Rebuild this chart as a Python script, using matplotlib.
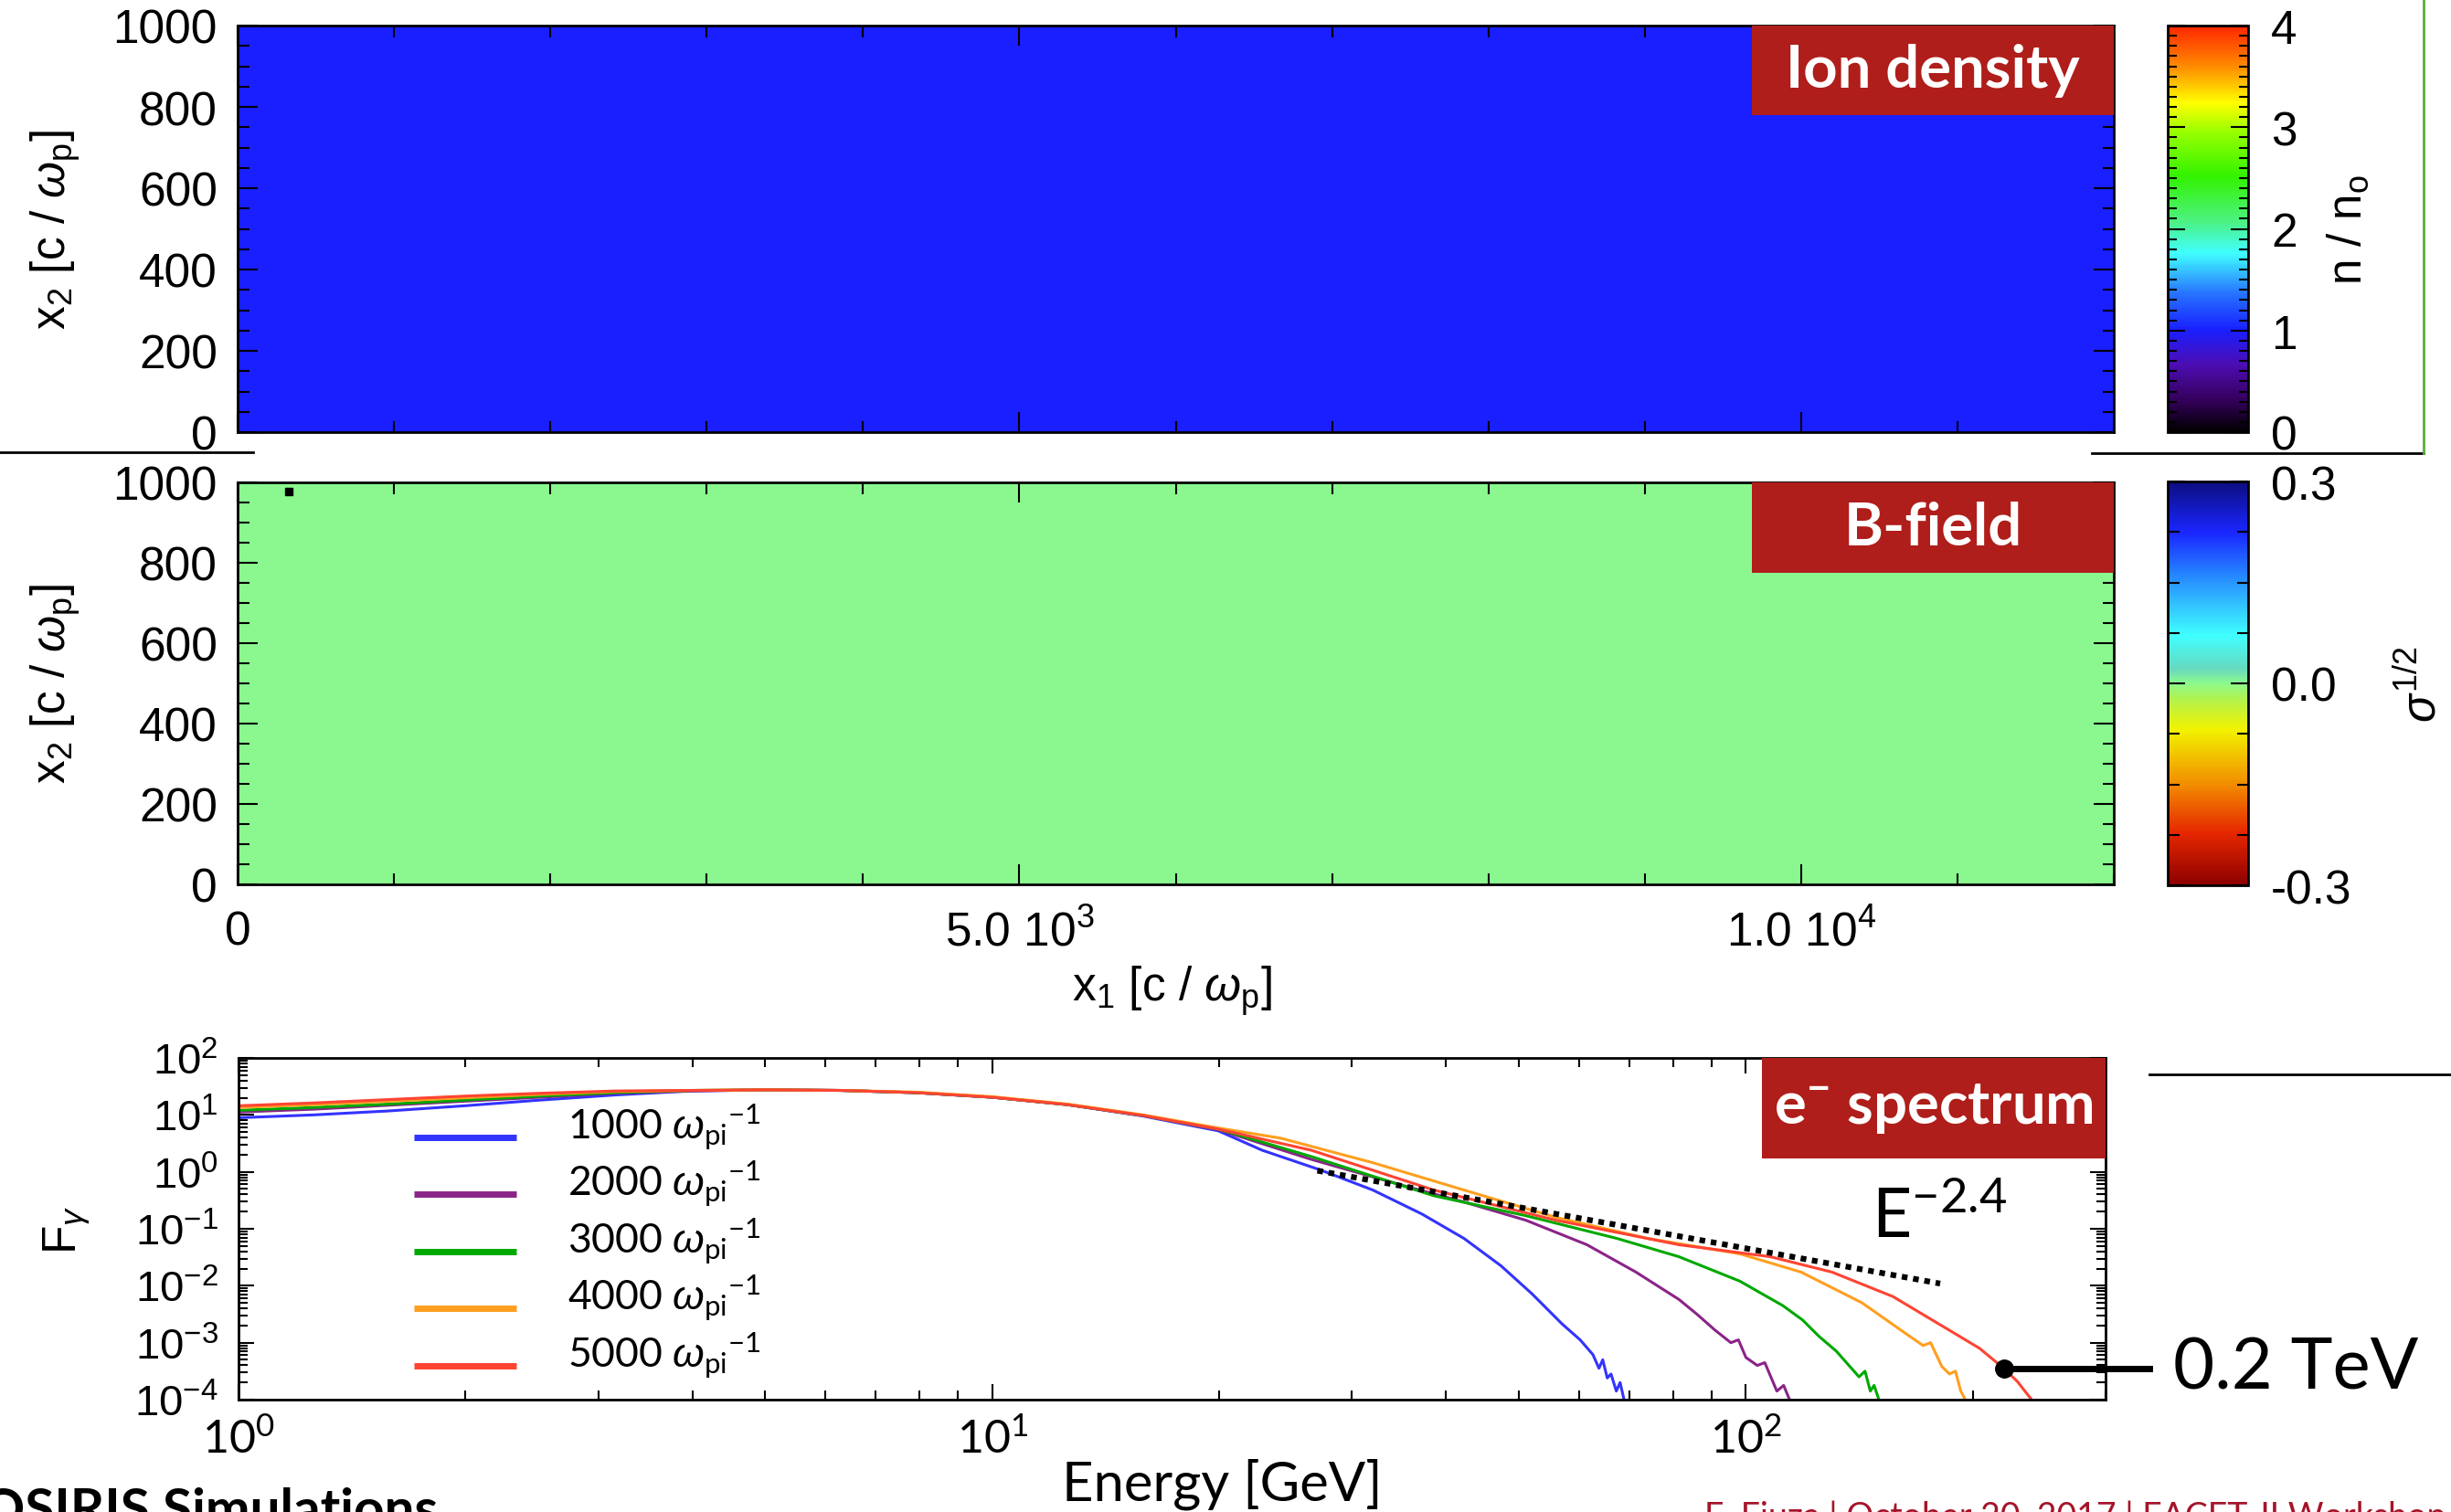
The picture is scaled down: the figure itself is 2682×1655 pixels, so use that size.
import numpy as np
import matplotlib
matplotlib.use('Agg')
import matplotlib.pyplot as plt
from matplotlib.colors import LinearSegmentedColormap
from matplotlib.patches import Rectangle
from matplotlib.lines import Line2D
from matplotlib.ticker import MultipleLocator, LogLocator, NullFormatter, FixedLocator, FixedFormatter
from matplotlib.transforms import blended_transform_factory

plt.rcParams['font.family'] = ['Liberation Sans', 'DejaVu Sans']
plt.rcParams['mathtext.fontset'] = 'custom'
plt.rcParams['mathtext.rm'] = 'Liberation Sans'
plt.rcParams['mathtext.it'] = 'Liberation Sans:italic'
plt.rcParams['mathtext.default'] = 'regular'

# ---- data ----
# simulation box in c/wp
box_x1 = [0, 12000]
box_x2 = [0, 1000]
ion_density = [[1.0]]          # n/n0, uniform upstream plasma
b_field = [[0.0]]              # sigma^1/2, no field yet
probe_x1 = [330]
probe_x2 = [978]

times = [1000, 2000, 3000, 4000, 5000]
line_colors = ['#3333ff', '#8b2389', '#00a800', '#ff9f1f', '#ff4433']

# spectra, log10(E/GeV) and log10(F)
log_e_head = [0.0, 0.1, 0.2, 0.3, 0.4, 0.5, 0.6, 0.7, 0.8, 0.9, 1.0, 1.1, 1.2, 1.3]
log_f_head = [
    [0.95, 1.00, 1.07, 1.16, 1.26, 1.35, 1.42, 1.44, 1.43, 1.39, 1.31, 1.18, 0.98, 0.72],
    [1.05, 1.10, 1.17, 1.24, 1.31, 1.38, 1.42, 1.44, 1.43, 1.39, 1.31, 1.18, 0.99, 0.74],
    [1.08, 1.13, 1.19, 1.26, 1.33, 1.39, 1.43, 1.44, 1.43, 1.39, 1.31, 1.18, 0.99, 0.75],
    [1.13, 1.18, 1.24, 1.30, 1.36, 1.41, 1.43, 1.44, 1.43, 1.40, 1.32, 1.19, 1.00, 0.77],
    [1.16, 1.21, 1.27, 1.33, 1.38, 1.42, 1.43, 1.44, 1.43, 1.39, 1.31, 1.18, 0.99, 0.75],
]
log_e_tail = [
    [1.358, 1.436, 1.505, 1.570, 1.626, 1.675, 1.716, 1.756, 1.780, 1.797, 1.805, 1.810, 1.816, 1.821, 1.828, 1.833, 1.840],
    [1.423, 1.545, 1.626, 1.708, 1.789, 1.854, 1.911, 1.935, 1.959, 1.980, 1.990, 2.000, 2.015, 2.025, 2.041, 2.050, 2.061],
    [1.423, 1.586, 1.708, 1.829, 1.911, 1.992, 2.049, 2.075, 2.097, 2.120, 2.138, 2.150, 2.158, 2.165, 2.170, 2.179],
    [1.383, 1.505, 1.626, 1.748, 1.870, 1.992, 2.073, 2.154, 2.211, 2.235, 2.245, 2.260, 2.270, 2.278, 2.285, 2.295],
    [1.423, 1.586, 1.748, 1.911, 2.032, 2.114, 2.195, 2.276, 2.310, 2.342, 2.360, 2.382],
]
log_f_tail = [
    [0.38, 0.03, -0.32, -0.74, -1.17, -1.65, -2.14, -2.67, -2.95, -3.21, -3.45, -3.30, -3.62, -3.55, -3.85, -3.70, -4.10],
    [0.22, -0.24, -0.53, -0.85, -1.28, -1.76, -2.24, -2.50, -2.78, -3.00, -2.95, -3.26, -3.40, -3.35, -3.85, -3.75, -4.10],
    [0.27, -0.42, -0.77, -1.17, -1.49, -1.92, -2.35, -2.60, -2.89, -3.15, -3.42, -3.60, -3.50, -3.85, -3.75, -4.10],
    [0.59, 0.16, -0.32, -0.80, -1.17, -1.44, -1.76, -2.30, -2.83, -3.05, -3.00, -3.42, -3.55, -3.50, -3.85, -4.10],
    [0.38, -0.32, -0.85, -1.28, -1.49, -1.76, -2.19, -2.83, -3.10, -3.45, -3.68, -4.05],
]

powerlaw_index = -2.4
powerlaw_e = [27.0, 181.0]
powerlaw_norm = 2860.0

cutoff_energy = 220.0      # GeV
cutoff_flux = 3.55e-4

# ---- colormaps ----
ion_cmap = LinearSegmentedColormap.from_list('ion', [
    (0.00, (0.0, 0.0, 0.0)),
    (0.075, (0.2, 0.0, 0.35)),
    (0.165, (0.3, 0.05, 0.7)),
    (0.25, (0.1, 0.12, 1.0)),
    (0.34, (0.15, 0.45, 1.0)),
    (0.44, (0.25, 1.0, 1.0)),
    (0.52, (0.3, 0.95, 0.5)),
    (0.63, (0.2, 0.95, 0.0)),
    (0.74, (0.6, 1.0, 0.0)),
    (0.81, (1.0, 1.0, 0.0)),
    (0.90, (1.0, 0.55, 0.0)),
    (1.00, (1.0, 0.15, 0.0)),
])
b_cmap = LinearSegmentedColormap.from_list('bfield', [
    (0.00, (0.55, 0.0, 0.0)),
    (0.128, (0.9, 0.15, 0.0)),
    (0.249, (0.95, 0.55, 0.0)),
    (0.385, (0.95, 0.95, 0.0)),
    (0.46, (0.7, 0.95, 0.3)),
    (0.50, (0.55, 0.98, 0.55)),
    (0.536, (0.4, 0.85, 0.75)),
    (0.619, (0.25, 1.0, 1.0)),
    (0.762, (0.15, 0.55, 1.0)),
    (0.875, (0.1, 0.15, 1.0)),
    (1.00, (0.05, 0.05, 0.5)),
])

W, H = 2682, 1656
fig = plt.figure(figsize=(W / 100, H / 100), dpi=100)


def px_box(x0, y0, x1, y1):
    return [x0 / W, 1 - y1 / H, (x1 - x0) / W, (y1 - y0) / H]


def style_axes(ax, size=37):
    ax.tick_params(which='both', direction='in', top=True, right=True, width=1.5,
                   labelsize=size, pad=16)
    ax.tick_params(which='major', length=16)
    ax.tick_params(which='minor', length=9)
    for s in ax.spines.values():
        s.set_linewidth(2)


def red_tag(ax, x0, y0, text, size=47):
    ax.add_patch(Rectangle((x0, y0), 1 - x0, 1 - y0, transform=ax.transAxes,
                           facecolor='#af1e1a', edgecolor='none', zorder=5, clip_on=False))
    ax.text((x0 + 1) / 2, (y0 + 1) / 2, text, transform=ax.transAxes, ha='center', va='center',
            color='white', fontsize=size, fontweight='bold', family='Lato', zorder=6)


wp = r'$\mathit{\omega}_\mathregular{p}$'

# ---- ion density ----
ax1 = fig.add_axes(px_box(260, 29, 2313, 474))
im1 = ax1.imshow(np.array(ion_density), extent=box_x1 + box_x2, origin='lower',
                 cmap=ion_cmap, vmin=0, vmax=4, aspect='auto')
ax1.set_xlim(box_x1)
ax1.set_ylim(box_x2)
style_axes(ax1)
ax1.xaxis.set_major_locator(MultipleLocator(5000))
ax1.xaxis.set_minor_locator(MultipleLocator(1000))
ax1.yaxis.set_major_locator(MultipleLocator(200))
ax1.yaxis.set_minor_locator(MultipleLocator(50))
ax1.tick_params(labelbottom=False)
ax1.set_ylabel(r'x$_\mathregular{2}$ [c / ' + wp + ']', fontsize=37)
ax1.yaxis.set_label_coords(-0.083, 0.5)
red_tag(ax1, 0.807, 0.780, 'Ion density')

cax1 = fig.add_axes(px_box(2372, 29, 2460, 474))
cb1 = fig.colorbar(im1, cax=cax1)
cb1.set_ticks([0, 1, 2, 3, 4])
cax1.yaxis.set_minor_locator(MultipleLocator(0.1))
cax1.tick_params(which='both', direction='in', left=True, right=True, width=1.5,
                 labelsize=37, pad=18)
cax1.tick_params(which='major', length=14)
cax1.tick_params(which='minor', length=7)
cb1.outline.set_linewidth(2)
cax1.set_ylabel(r'n / n$_\mathregular{o}$', fontsize=37, rotation=90)
cax1.yaxis.set_label_coords(1.96, 0.5)

# ---- B field ----
ax2 = fig.add_axes(px_box(260, 529, 2313, 969))
im2 = ax2.imshow(np.array(b_field), extent=box_x1 + box_x2, origin='lower',
                 cmap=b_cmap, vmin=-0.3, vmax=0.3, aspect='auto')
ax2.plot(probe_x1, probe_x2, 's', color='black', markersize=6)
ax2.set_xlim(box_x1)
ax2.set_ylim(box_x2)
style_axes(ax2)
ax2.xaxis.set_major_locator(FixedLocator([0, 5000, 10000]))
ax2.xaxis.set_major_formatter(FixedFormatter(['0', r'5.0 $10^{3}$', r'1.0 $10^{4}$']))
ax2.xaxis.set_minor_locator(MultipleLocator(1000))
ax2.yaxis.set_major_locator(MultipleLocator(200))
ax2.yaxis.set_minor_locator(MultipleLocator(50))
ax2.tick_params(axis='x', pad=20)
ax2.set_ylabel(r'x$_\mathregular{2}$ [c / ' + wp + ']', fontsize=37)
ax2.yaxis.set_label_coords(-0.083, 0.5)
ax2.set_xlabel(r'x$_\mathregular{1}$ [c / ' + wp + ']', fontsize=37)
ax2.xaxis.set_label_coords(0.498, -0.195)
red_tag(ax2, 0.807, 0.775, 'B-field')

cax2 = fig.add_axes(px_box(2372, 528, 2460, 970))
cb2 = fig.colorbar(im2, cax=cax2)
cb2.set_ticks([-0.3, 0.0, 0.3])
cb2.set_ticklabels(['-0.3', '0.0', '0.3'])
cax2.yaxis.set_minor_locator(MultipleLocator(0.075))
cax2.tick_params(which='both', direction='in', left=True, right=True, width=1.5,
                 labelsize=37, pad=18)
cax2.tick_params(which='major', length=14)
cax2.tick_params(which='minor', length=9)
cb2.outline.set_linewidth(2)
cax2.set_ylabel(r'$\mathit{\sigma}^{1/2}$', fontsize=37, rotation=90)
cax2.yaxis.set_label_coords(2.88, 0.5)

# ---- electron spectrum ----
ax3 = fig.add_axes(px_box(261, 1159, 2304, 1533))
for i, col in enumerate(line_colors):
    le = np.array(log_e_head + log_e_tail[i])
    lf = np.array(log_f_head[i] + log_f_tail[i])
    ax3.plot(10 ** le, 10 ** lf, color=col, lw=2.2)

pe = np.array(powerlaw_e)
ax3.plot(pe, powerlaw_norm * pe ** powerlaw_index, color='black', lw=4.5,
         linestyle=(0, (1.0, 1.0)), zorder=4)
ax3.text(147, 10 ** -1.15, r'E$^{%g}$' % powerlaw_index, fontsize=54, family='Lato',
         va='baseline', ha='left')

ax3.set_xscale('log')
ax3.set_yscale('log')
ax3.set_xlim(1, 300)
ax3.set_ylim(1e-4, 1e2)
style_axes(ax3, size=34)
ax3.tick_params(which='major', length=12)
ax3.tick_params(which='minor', length=7)
ax3.tick_params(axis='x', labelfontfamily='Lato', labelsize=36, pad=14)
ax3.xaxis.set_major_locator(FixedLocator([1, 10, 100]))
ax3.xaxis.set_major_formatter(FixedFormatter([r'$10^{0}$', r'$10^{1}$', r'$10^{2}$']))
ax3.xaxis.set_minor_locator(LogLocator(base=10, subs=np.arange(2, 10), numticks=20))
ax3.xaxis.set_minor_formatter(NullFormatter())
ax3.yaxis.set_major_locator(FixedLocator([1e-4, 1e-3, 1e-2, 1e-1, 1, 10, 100]))
ax3.yaxis.set_major_formatter(FixedFormatter([r'$10^{-4}$', r'$10^{-3}$', r'$10^{-2}$',
                                              r'$10^{-1}$', r'$10^{0}$', r'$10^{1}$', r'$10^{2}$']))
ax3.yaxis.set_minor_locator(LogLocator(base=10, subs=np.arange(2, 10), numticks=20))
ax3.yaxis.set_minor_formatter(NullFormatter())
ax3.set_ylabel(r'F$_\mathit{\gamma}$', fontsize=37)
ax3.yaxis.set_label_coords(-0.079, 0.5)
ax3.set_xlabel('Energy [GeV]', fontsize=43, family='Lato')
ax3.xaxis.set_label_coords(0.527, -0.17)

# legend swatches
legend_y = [0.767, 0.602, 0.433, 0.267, 0.099]
for t, col, y in zip(times, line_colors, legend_y):
    ax3.plot([0.094, 0.149], [y, y], transform=ax3.transAxes, color=col, lw=5,
             solid_capstyle='butt')
    ax3.text(0.176, y, r'%d $\mathit{\omega}_\mathregular{pi}{}^\mathregular{-1}$' % t,
             transform=ax3.transAxes, fontsize=32, family='Lato', va='baseline')

red_tag(ax3, 0.816, 0.706, r'e$^\mathregular{-}$ spectrum')

# cutoff marker
ax3.plot([cutoff_energy], [cutoff_flux], 'o', color='black', markersize=14, zorder=6)
blend = blended_transform_factory(ax3.transAxes, ax3.transData)
x_dot = np.log10(cutoff_energy) / np.log10(300)
ax3.plot([x_dot, 1.0235], [cutoff_flux, cutoff_flux], transform=blend, color='black',
         lw=5, clip_on=False, zorder=6)
ax3.text(1.036, cutoff_flux, '%.1f TeV' % (cutoff_energy / 1000), transform=blend,
         fontsize=56, family='Lato', va='center', ha='left')

# slide decorations
fig.add_artist(Line2D([0, 277 / W], [1 - 496 / H] * 2, color='black', lw=2))
fig.add_artist(Line2D([2289 / W, 2652 / W], [1 - 497 / H] * 2, color='black', lw=2))
fig.add_artist(Line2D([2652 / W] * 2, [1 - 497 / H, 1.0], color='#5aae3a', lw=2))
fig.add_artist(Line2D([2352 / W, 1.0], [1 - 1177 / H] * 2, color='black', lw=2))

fig.text(-20 / W, 1 - 1628 / H, 'OSIRIS Simulations', fontsize=42, fontweight='bold',
         family='Lato', va='top', ha='left')
fig.text(1865 / W, 1 - 1643 / H, 'F. Fiuza | October 20, 2017 | FACET-II Workshop',
         fontsize=27, family='Lato', color='#a5142a', va='top', ha='left')

fig.savefig('out.png', dpi=100)
